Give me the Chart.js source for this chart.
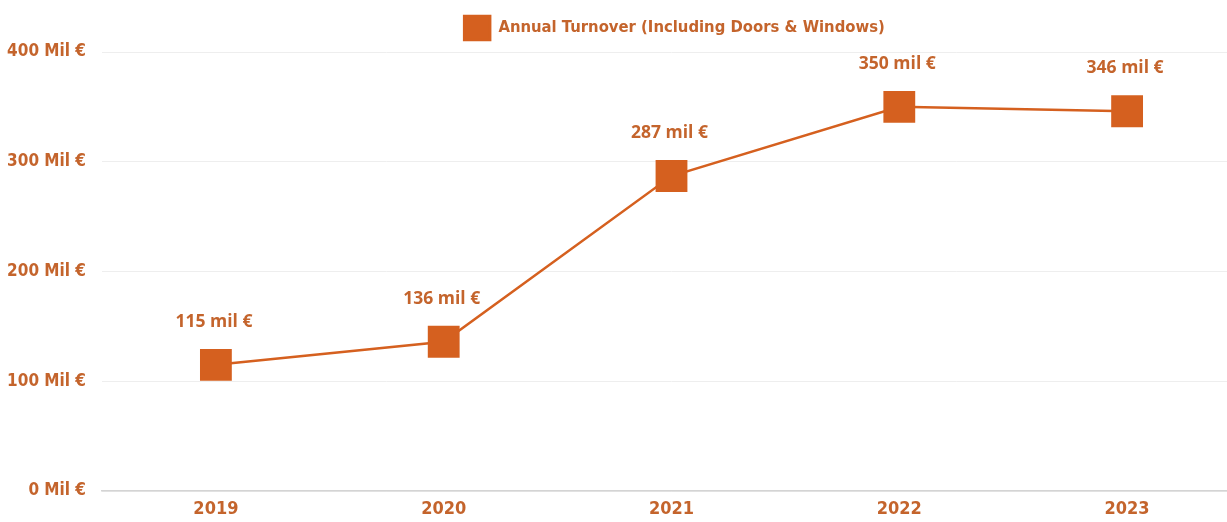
<!DOCTYPE html>
<html>
<head>
<meta charset="utf-8">
<script src="https://cdn.jsdelivr.net/npm/chart.js@4"></script>
<style>
  html, body { margin: 0; padding: 0; background: #fff; overflow: hidden; }
  canvas { display: block; }
</style>
</head>
<body>
<canvas id="turnover" width="1350" height="522"></canvas>
<script>
// Turnover data
var years = ['2019', '2020', '2021', '2022', '2023'];
var turnover = [115, 136, 287, 350, 346];
var turnoverLabels = ['115 mil €', '136 mil €', '287 mil €', '350 mil €', '346 mil €'];
var yTicks = [0, 100, 200, 300, 400];

var orange = '#D5601F';
var textColor = '#C4642C';
var axisFont = "'DejaVu Sans Condensed', 'Liberation Sans Narrow', sans-serif";

// writes the value text above every point
const pointLabels = {
    id: 'pointLabels',
    afterDatasetsDraw(chart) {
        const ctx = chart.ctx;
        const meta = chart.getDatasetMeta(0);
        ctx.save();
        ctx.font = "700 17.5px 'Open Sans', sans-serif";
        ctx.fillStyle = textColor;
        ctx.textAlign = 'center';
        ctx.textBaseline = 'middle';
        meta.data.forEach(function (pt, i) {
            ctx.fillText(turnoverLabels[i], pt.x - 2, pt.y - 43);
        });
        ctx.restore();
    }
};

// centre the legend over the plot area instead of the whole canvas
const legendShift = {
    id: 'legendShift',
    afterLayout(chart) {
        const lg = chart.legend;
        const dx = (chart.chartArea.left + chart.chartArea.right) / 2 - (lg.left + lg.right) / 2;
        lg.left += dx + 3;
        lg.right += dx + 3;
        lg.top -= 2;
        lg.bottom -= 2;
    }
};

const turnoverChart = new Chart(document.getElementById('turnover'), {
    type: 'line',
    data: {
        labels: years,
        datasets: [{
            label: 'Annual Turnover (Including Doors & Windows)',
            data: turnover,
            borderColor: orange,
            backgroundColor: orange,
            borderWidth: 2.5,
            pointStyle: 'rect',
            pointRadius: 22.5,
            pointHoverRadius: 22.5,
            pointBorderWidth: 0,
            tension: 0
        }]
    },
    options: {
        responsive: false,
        animation: false,
        layout: { padding: { left: 0, right: 109, top: 8, bottom: 0 } },
        plugins: {
            legend: {
                labels: {
                    boxWidth: 26,
                    boxHeight: 24,
                    color: textColor,
                    padding: 10,
                    font: { family: axisFont, size: 16.5, weight: 'bold' }
                }
            },
            tooltip: { enabled: false }
        },
        scales: {
            x: {
                offset: true,
                grid: { display: false, drawTicks: false },
                border: { color: '#d4d4d4', width: 1.5 },
                afterFit: function (axis) { axis.height = 31; },
                ticks: {
                    color: textColor,
                    padding: 8,
                    font: { family: axisFont, size: 18, weight: 'bold' }
                }
            },
            y: {
                min: 0,
                max: 400,
                afterBuildTicks: function (axis) {
                    axis.ticks = yTicks.map(function (v) { return { value: v }; });
                },
                afterFit: function (axis) { axis.width = 102; },
                grid: { color: '#eeeeee', drawTicks: false },
                border: { display: false },
                ticks: {
                    color: textColor,
                    padding: 16,
                    font: { family: axisFont, size: 17, weight: 'bold' },
                    callback: function (v) { return v + ' Mil €'; }
                }
            }
        }
    },
    plugins: [pointLabels, legendShift]
});
</script>
</body>
</html>
